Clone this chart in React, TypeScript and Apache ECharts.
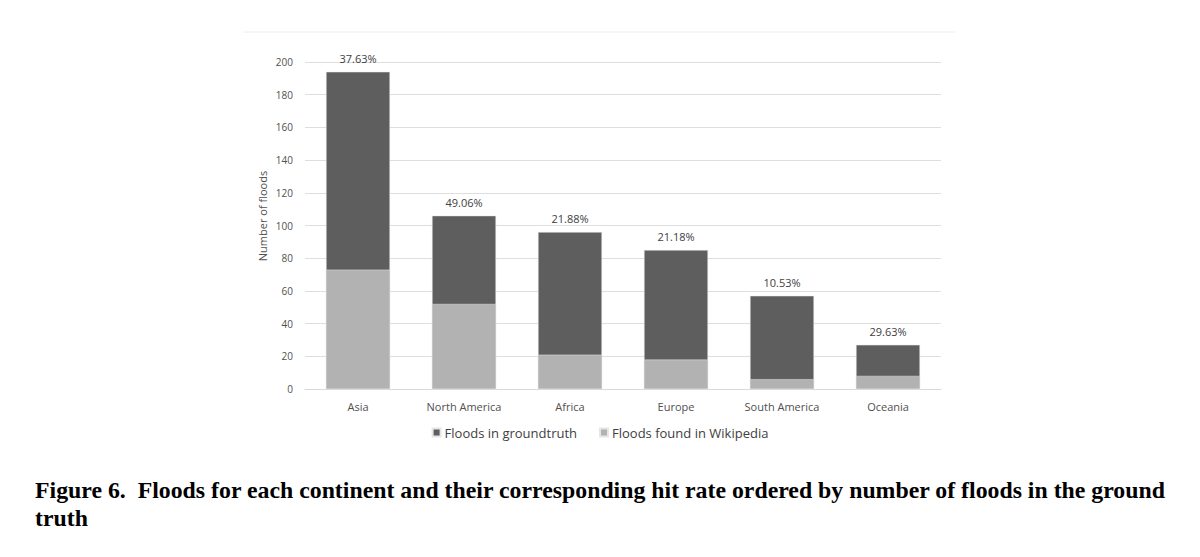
import React, { useEffect, useRef } from "react";
import * as echarts from "echarts";

const categories = ["Asia", "North America", "Africa", "Europe", "South America", "Oceania"];
const groundtruth = [194, 106, 96, 85, 57, 27];
const foundInWikipedia = [73, 52, 21, 18, 6, 8];
const hitRateLabels = ["37.63%", "49.06%", "21.88%", "21.18%", "10.53%", "29.63%"];
const seriesNames = ["Floods in groundtruth", "Floods found in Wikipedia"];
const captionLines = [
  "Figure 6.  Floods for each continent and their corresponding hit rate ordered by number of floods in the ground",
  "truth",
];

const FONT = "'Open Sans', 'Liberation Sans', sans-serif";
const CAPTION_FONT = "bold 23.8px 'Liberation Serif', 'Times New Roman', serif";

export default function App() {
  const ref = useRef<HTMLDivElement>(null);
  useEffect(() => {
    if (!ref.current) return;
    const chart = echarts.init(ref.current, undefined, { renderer: "svg" });
    chart.setOption({
      animation: false,
      backgroundColor: "#ffffff",
      textStyle: { fontFamily: FONT },
      grid: { left: 305, right: 259, top: 62, bottom: 168, containLabel: false },
      legend: {
        data: seriesNames,
        left: "center",
        top: 421,
        itemWidth: 8,
        itemHeight: 8,
        itemGap: 22,
        icon: "rect",
        textStyle: { fontFamily: FONT, fontSize: 13, color: "#404040", padding: [0, 0, 0, -1] },
      },
      xAxis: {
        type: "category",
        data: categories,
        axisLine: { show: true, lineStyle: { color: "#d9d9d9", width: 1 } },
        axisTick: { show: false },
        axisLabel: { color: "#505050", fontSize: 11, margin: 12, fontFamily: FONT },
      },
      yAxis: {
        type: "value",
        min: 0,
        max: 200,
        interval: 20,
        axisLine: { show: false },
        axisTick: { show: false },
        axisLabel: { color: "#505050", fontSize: 10, margin: 12, fontFamily: FONT },
        splitLine: { lineStyle: { color: "#dedede", width: 1 } },
      },
      series: [
        {
          name: seriesNames[0],
          type: "bar",
          data: groundtruth,
          barWidth: 64,
          barGap: "-100%",
          itemStyle: { color: "#5e5e5e", borderColor: "#e6e6e6", borderWidth: 0.5 },
          label: {
            show: true,
            position: "top",
            distance: 8,
            color: "#404040",
            fontSize: 11,
            fontFamily: FONT,
            formatter: (p: any) => hitRateLabels[p.dataIndex],
          },
        },
        {
          name: seriesNames[1],
          type: "bar",
          data: foundInWikipedia,
          barWidth: 64,
          barGap: "-100%",
          itemStyle: { color: "#b2b2b2", borderColor: "#e6e6e6", borderWidth: 0.5 },
        },
      ],
      graphic: [
        {
          type: "line",
          shape: { x1: 243, y1: 32, x2: 955, y2: 32 },
          style: { stroke: "#ececec", lineWidth: 1 },
        },
        {
          type: "text",
          x: 262,
          y: 216,
          rotation: Math.PI / 2,
          style: {
            text: "Number of floods",
            fill: "#505050",
            font: `11px ${FONT}`,
            align: "center",
            verticalAlign: "middle",
          },
        },
        {
          type: "text",
          x: 35,
          y: 490,
          style: {
            text: captionLines[0],
            fill: "#000000",
            font: CAPTION_FONT,
            align: "left",
            verticalAlign: "middle",
          },
        },
        {
          type: "text",
          x: 35,
          y: 518,
          style: {
            text: captionLines[1],
            fill: "#000000",
            font: CAPTION_FONT,
            align: "left",
            verticalAlign: "middle",
          },
        },
      ],
    });
    return () => chart.dispose();
  }, []);
  return (
    <div
      ref={ref}
      style={{ position: "absolute", left: 0, top: 0, width: 1200, height: 557 }}
    />
  );
}
